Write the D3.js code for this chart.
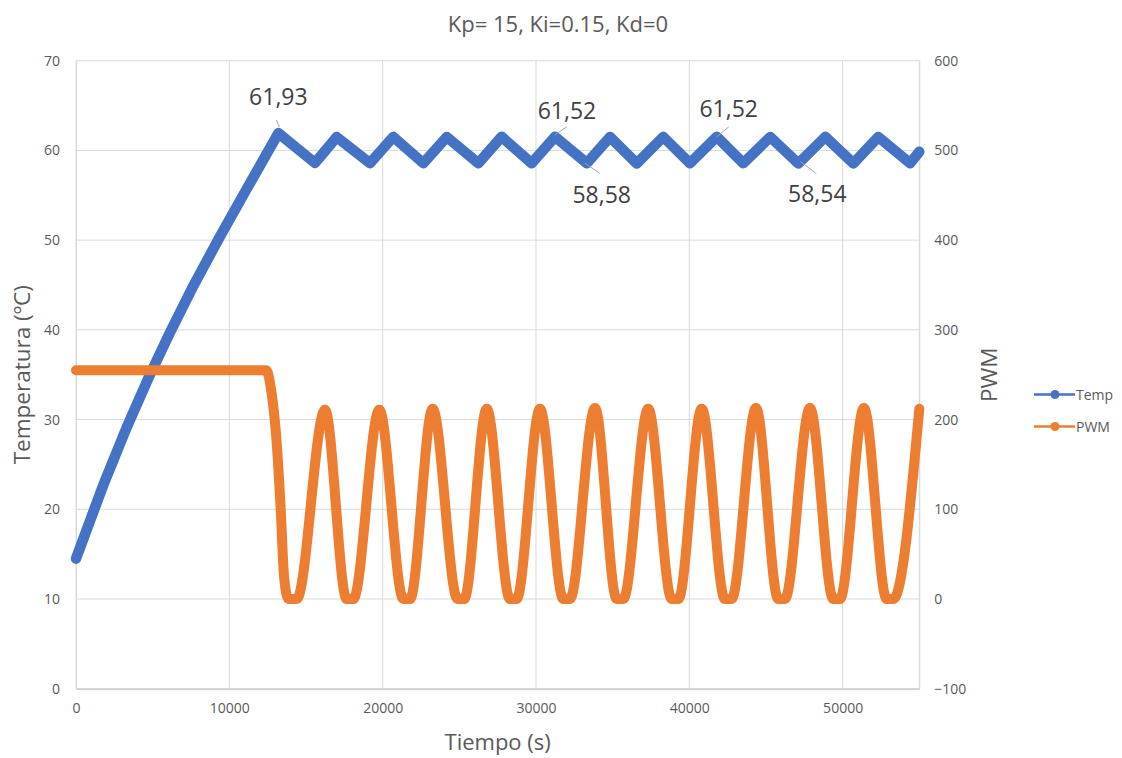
<!DOCTYPE html>
<html>
<head>
<meta charset="utf-8">
<script src="https://cdn.jsdelivr.net/npm/d3@7"></script>
<style>
  html, body { margin: 0; padding: 0; background: #ffffff; }
  svg { display: block; font-family: "Open Sans", "Noto Sans", sans-serif; }
</style>
</head>
<body>
<svg id="chart" width="1122" height="758"></svg>
<script>
// ---- data ----
const chartTitle = "Kp= 15, Ki=0.15, Kd=0";
const xTicks = [0, 10000, 20000, 30000, 40000, 50000];
const tempTicks = [0, 10, 20, 30, 40, 50, 60, 70];
const pwmTicks = [-100, 0, 100, 200, 300, 400, 500, 600];

// temperature (ºC) against time (s)
const tempTime = [0, 1780, 3300, 4715, 6130, 7650, 9390, 11130, 13200,
  15590, 17000, 19170, 20690, 22650, 24180, 26240, 27760, 29720, 31240,
  33310, 34830, 36570, 38300, 40040, 41790, 43520, 45280, 47110, 48870,
  50700, 52330, 54400, 55000];
const tempValues = [14.5, 22.7, 29.1, 34.6, 39.7, 44.9, 50.4, 55.7, 61.93,
  58.60, 61.49, 58.57, 61.51, 58.58, 61.50, 58.56, 61.52, 58.57, 61.52,
  58.58, 61.50, 58.55, 61.51, 58.56, 61.52, 58.57, 61.50, 58.54, 61.51,
  58.55, 61.50, 58.56, 59.85];

// PWM duty against time (s)
const pwmTime = [0, 12400, 12760, 13090, 13350, 13570, 13850, 14400,
  16240, 17650, 18090, 19780, 21350, 21790, 23260, 24880, 25320, 26790,
  28300, 28740, 30260, 31780, 32220, 33850, 35260, 35700, 37320, 38850,
  39290, 40810, 42320, 42760, 44350, 45800, 46240, 47870, 49390, 49830,
  51390, 52870, 53310, 55000];
const pwmValues = [255, 255, 229, 174, 100, 25, 0, 0,
  211, 0, 0, 211, 0, 0, 212, 0, 0, 212,
  0, 0, 212, 0, 0, 213, 0, 0, 212, 0,
  0, 212, 0, 0, 213, 0, 0, 213, 0, 0,
  213, 0, 0, 212];

// values printed beside selected points: index into tempValues
const labelIndex = [8, 18, 19, 24, 27];

// ---- layout ----
const svg = d3.select("#chart");
const plot = { left: 76, right: 919.3, top: 60.7, bottom: 688.7 };
const textGrey = "#595959";
const gridGrey = "#d9d9d9";
const blue = "#4472C4";
const orange = "#ED7D31";
const lineWidth = 10.5;

const x = d3.scaleLinear().domain([0, 55000]).range([plot.left, plot.right]);
const yT = d3.scaleLinear().domain([0, 70]).range([plot.bottom, plot.top]);
const yP = d3.scaleLinear().domain([-100, 600]).range([plot.bottom, plot.top]);

// gridlines
const grid = svg.append("g");
grid.selectAll("line.h").data(tempTicks).join("line")
  .attr("x1", plot.left).attr("x2", plot.right)
  .attr("y1", d => yT(d)).attr("y2", d => yT(d))
  .attr("stroke", gridGrey).attr("stroke-width", 1);
grid.selectAll("line.v").data(xTicks.concat([55000])).join("line")
  .attr("y1", plot.top).attr("y2", plot.bottom)
  .attr("x1", d => x(d)).attr("x2", d => x(d))
  .attr("stroke", gridGrey).attr("stroke-width", 1);

// axes
const axisFont = sel => sel.selectAll("text")
  .attr("fill", textGrey).attr("font-size", 14).attr("font-family", "Open Sans");

const xAxis = svg.append("g")
  .attr("transform", `translate(0,${plot.bottom})`)
  .call(d3.axisBottom(x).tickValues(xTicks).tickFormat(d3.format("d")).tickSize(0).tickPadding(14));
xAxis.select(".domain").attr("stroke", "#bfbfbf");
axisFont(xAxis);

const yAxisL = svg.append("g")
  .attr("transform", `translate(${plot.left},0)`)
  .call(d3.axisLeft(yT).tickValues(tempTicks).tickSize(0).tickPadding(16));
yAxisL.select(".domain").attr("stroke", gridGrey);
axisFont(yAxisL);

const yAxisR = svg.append("g")
  .attr("transform", `translate(${plot.right},0)`)
  .call(d3.axisRight(yP).tickValues(pwmTicks).tickSize(0).tickPadding(15));
yAxisR.select(".domain").attr("stroke", gridGrey);
axisFont(yAxisR);

// series lines
const tempLine = d3.line()
  .x((d, i) => x(tempTime[i]))
  .y(d => yT(d))
  .curve(d3.curveLinear);
const pwmLine = d3.line()
  .x((d, i) => x(pwmTime[i]))
  .y(d => yP(d))
  .curve(d3.curveMonotoneX);

svg.append("path").datum(tempValues)
  .attr("d", tempLine)
  .attr("fill", "none").attr("stroke", blue)
  .attr("stroke-width", lineWidth)
  .attr("stroke-linejoin", "round").attr("stroke-linecap", "round");

svg.append("path").datum(pwmValues)
  .attr("d", pwmLine)
  .attr("fill", "none").attr("stroke", orange)
  .attr("stroke-width", 10)
  .attr("stroke-linejoin", "round").attr("stroke-linecap", "round");

// data labels with short leader lines
const labelOffsets = {
  8:  { dx: 0,  dy: -28, l1: [-2, -13], l2: [1, -6] },
  18: { dx: 12, dy: -18, l1: [12, -10], l2: [0, -2] },
  19: { dx: 15, dy: 40,  l1: [-2, 0],   l2: [13, 10] },
  24: { dx: 12, dy: -20, l1: [12, -10], l2: [0, 0] },
  27: { dx: 19, dy: 38,  l1: [2, -2],   l2: [18, 10] }
};
const fmtComma = v => v.toFixed(2).replace(".", ",");
const labels = svg.append("g");
labelIndex.forEach(i => {
  const px = x(tempTime[i]), py = yT(tempValues[i]);
  const o = labelOffsets[i];
  labels.append("line")
    .attr("x1", px + o.l1[0]).attr("y1", py + o.l1[1])
    .attr("x2", px + o.l2[0]).attr("y2", py + o.l2[1])
    .attr("stroke", "#a6a6a6").attr("stroke-width", 1);
  labels.append("text")
    .attr("x", px + o.dx).attr("y", py + o.dy)
    .attr("text-anchor", "middle")
    .attr("font-size", 23).attr("fill", "#404040")
    .text(fmtComma(tempValues[i]));
});

// title
svg.append("text")
  .attr("x", 558).attr("y", 32)
  .attr("text-anchor", "middle")
  .attr("font-size", 22).attr("fill", textGrey)
  .text(chartTitle);

// axis titles
svg.append("text")
  .attr("x", (plot.left + plot.right) / 2).attr("y", 750)
  .attr("text-anchor", "middle")
  .attr("font-size", 22).attr("fill", textGrey)
  .text("Tiempo (s)");

svg.append("text")
  .attr("transform", `translate(30,${(plot.top + plot.bottom) / 2}) rotate(-90)`)
  .attr("text-anchor", "middle")
  .attr("font-size", 22.5).attr("fill", textGrey)
  .text("Temperatura (ºC)");

svg.append("text")
  .attr("transform", `translate(997,${(plot.top + plot.bottom) / 2}) rotate(-90)`)
  .attr("text-anchor", "middle")
  .attr("font-size", 22.5).attr("fill", textGrey)
  .text("PWM");

// legend
const legendItems = [
  { name: "Temp", color: blue, y: 394.5 },
  { name: "PWM", color: orange, y: 426.5 }
];
const legend = svg.append("g");
legendItems.forEach(it => {
  legend.append("line")
    .attr("x1", 1034).attr("x2", 1075)
    .attr("y1", it.y).attr("y2", it.y)
    .attr("stroke", it.color).attr("stroke-width", 2.5);
  legend.append("circle")
    .attr("cx", 1055).attr("cy", it.y).attr("r", 4.5)
    .attr("fill", it.color);
  legend.append("text")
    .attr("x", 1076).attr("y", it.y + 5)
    .attr("font-size", 14).attr("fill", textGrey)
    .text(it.name);
});
</script>
</body>
</html>
